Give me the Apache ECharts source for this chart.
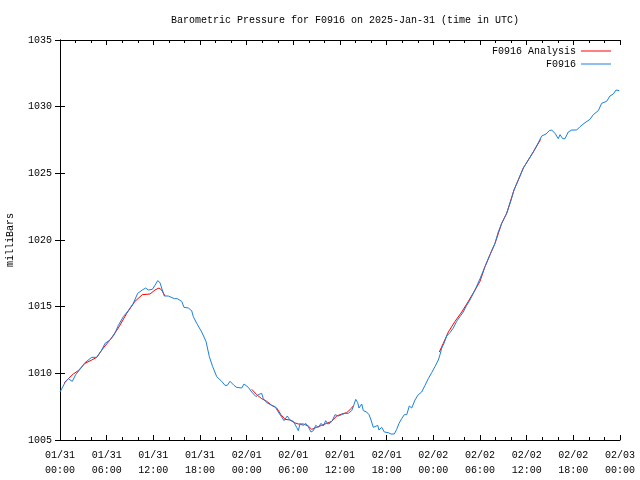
<!DOCTYPE html>
<html>
<head>
<meta charset="utf-8">
<script src="https://cdn.jsdelivr.net/npm/echarts@6/dist/echarts.min.js"></script>
<style>html,body{margin:0;padding:0;background:#fff}#c{width:640px;height:480px}</style>
</head>
<body>
<div id="c"></div>
<script>
// Hours since 2025-01-31 00:00 UTC
var tickLabels = ["01/31\n00:00","01/31\n06:00","01/31\n12:00","01/31\n18:00","02/01\n00:00","02/01\n06:00","02/01\n12:00","02/01\n18:00","02/02\n00:00","02/02\n06:00","02/02\n12:00","02/02\n18:00","02/03\n00:00"];

var obsHours = [0.00,0.64,1.07,1.58,2.02,2.70,3.21,4.08,4.72,5.36,5.79,6.43,6.98,7.50,8.14,8.78,9.42,9.99,10.58,11.02,11.35,11.87,12.21,12.56,12.86,13.15,13.41,13.92,14.14,14.70,15.08,15.65,15.94,16.50,16.93,17.14,17.58,18.22,18.77,19.20,19.63,20.15,20.79,21.21,21.51,21.86,22.37,22.72,23.36,23.66,24.21,24.65,25.20,25.50,25.93,26.14,26.58,27.22,27.64,28.07,28.41,28.80,29.22,29.57,30.00,30.43,30.64,30.86,31.28,31.59,31.92,32.27,32.57,32.88,33.21,33.56,33.85,34.16,34.42,34.71,35.01,35.36,35.78,36.22,36.64,37.07,37.50,37.71,38.02,38.28,38.44,38.79,39.00,39.43,39.73,39.99,40.28,40.50,40.85,41.01,41.36,41.70,42.21,42.56,42.98,43.29,43.59,43.93,44.27,44.58,44.91,45.22,45.64,46.07,46.50,46.93,47.35,47.79,48.21,48.64,48.86,49.08,49.37,49.72,50.14,50.57,51.00,51.43,51.85,52.29,52.71,53.36,54.00,54.64,55.29,55.93,56.35,56.79,57.43,57.95,58.37,58.93,59.57,60.21,60.85,61.50,61.93,62.49,62.91,63.22,63.64,64.07,64.29,64.63,64.93,65.35,65.79,66.43,66.86,67.50,68.14,68.57,69.21,69.64,70.28,70.71,71.14,71.49,71.65,71.91];
var obsValues = [1008.6,1009.3,1009.6,1009.4,1009.9,1010.4,1010.8,1011.2,1011.2,1011.75,1012.25,1012.5,1012.9,1013.6,1014.25,1014.7,1015.25,1016.0,1016.25,1016.4,1016.25,1016.3,1016.6,1016.95,1016.8,1016.25,1015.8,1015.8,1015.9,1015.6,1015.6,1015.4,1014.95,1014.9,1014.7,1014.25,1013.75,1013.1,1012.4,1011.25,1010.5,1009.75,1009.4,1009.1,1009.1,1009.4,1009.1,1008.95,1008.9,1009.2,1008.95,1008.6,1008.25,1008.4,1008.5,1008.1,1007.8,1007.6,1007.5,1007.1,1006.8,1006.45,1006.8,1006.5,1006.4,1005.95,1005.7,1006.2,1006.1,1006.25,1006.0,1005.6,1005.7,1006.1,1005.95,1006.25,1006.05,1006.45,1006.2,1006.25,1006.45,1006.9,1006.8,1006.9,1007.0,1007.0,1007.2,1007.5,1008.05,1007.8,1007.4,1007.7,1007.2,1007.1,1006.9,1006.5,1005.95,1006.05,1006.1,1005.75,1005.95,1005.6,1005.55,1005.45,1005.45,1005.8,1006.25,1006.6,1006.9,1006.9,1007.55,1007.4,1008.0,1008.4,1008.6,1009.1,1009.6,1010.05,1010.5,1011.0,1011.4,1011.9,1012.25,1012.8,1013.05,1013.4,1013.9,1014.25,1014.6,1015.1,1015.5,1016.25,1017.1,1018.0,1018.9,1019.75,1020.6,1021.25,1022.0,1022.9,1023.75,1024.5,1025.4,1026.0,1026.6,1027.3,1027.8,1027.95,1028.2,1028.25,1028.0,1027.6,1027.9,1027.6,1027.6,1028.1,1028.25,1028.25,1028.5,1028.8,1029.05,1029.4,1029.7,1030.25,1030.4,1030.8,1030.95,1031.25,1031.4,1031.2];

// Analysis series (null = gap)
var anaHours = [0.55,1.07,1.71,2.35,3.21,4.08,4.72,5.57,6.43,7.50,8.58,9.64,10.58,11.57,12.21,12.73,13.07,13.50,13.8,24.4,24.65,25.29,25.93,26.58,27.22,27.86,28.41,28.93,29.57,30.12,30.64,31.28,31.92,32.36,33.00,33.65,34.29,34.93,35.57,36.22,36.86,37.50,37.71,38.0,48.5,48.77,49.28,49.93,50.79,51.65,52.50,53.36,54.00,54.64,55.29,55.93,56.79,57.43,58.37,59.57,60.85,61.80];
var anaValues = [1009.3,1009.6,1009.95,1010.2,1010.75,1011.0,1011.2,1011.9,1012.5,1013.4,1014.5,1015.4,1015.9,1015.95,1016.25,1016.4,1016.25,1015.8,null,null,1008.8,1008.4,1008.1,1007.9,1007.6,1007.4,1006.9,1006.55,1006.5,1006.3,1006.2,1006.2,1006.05,1005.8,1005.95,1006.1,1006.25,1006.4,1006.8,1006.95,1007.05,1007.4,1007.55,null,null,1011.6,1012.25,1013.1,1013.9,1014.6,1015.4,1016.25,1016.9,1018.0,1018.9,1019.75,1021.25,1022.0,1023.75,1025.4,1026.6,1027.55];

var FONT = 'Liberation Mono';
function pairs(h, v){ var o=[]; for(var i=0;i<h.length;i++) o.push([h[i], v[i]]); return o; }

var chart = echarts.init(document.getElementById('c'), null, {renderer:'canvas'});
var axisBase = {
  axisLine:{show:true, lineStyle:{color:'#000', width:1}},
  splitLine:{show:false}
};
chart.setOption({
  animation:false,
  backgroundColor:'#fff',
  title:{text:'Barometric Pressure for F0916 on 2025-Jan-31 (time in UTC)', left:340, top:10, textAlign:'center',
    textStyle:{fontFamily:FONT, fontSize:10, fontWeight:'normal', color:'#000'}},
  legend:{
    right:24, top:41, orient:'vertical', align:'right', itemGap:3, itemWidth:30, itemHeight:1,
    icon:'rect',
    textStyle:{fontFamily:FONT, fontSize:10, color:'#000', padding:[0,0,0,0]},
    data:[{name:'F0916 Analysis'},{name:'F0916'}]
  },
  grid:{left:60, right:20, top:40, bottom:40, containLabel:false, outerBoundsMode:'none'},
  xAxis:[
    Object.assign({}, axisBase, {type:'value', min:0, max:72, interval:6, position:'bottom',
      axisTick:{show:true, inside:true, length:5, lineStyle:{color:'#000'}},
      minorTick:{show:true, splitNumber:3, length:3, lineStyle:{color:'#000'}},
      axisLabel:{margin:8, lineHeight:15, fontFamily:FONT, fontSize:10, color:'#000',
        formatter:function(v){ return tickLabels[Math.round(v/6)]; }}
    }),
    Object.assign({}, axisBase, {type:'value', min:0, max:72, interval:6, position:'top',
      axisTick:{show:true, inside:true, length:5, lineStyle:{color:'#000'}},
      minorTick:{show:true, splitNumber:3, length:3, lineStyle:{color:'#000'}},
      axisLabel:{show:false}
    })
  ],
  yAxis:[
    Object.assign({}, axisBase, {type:'value', min:1005, max:1035, interval:5, position:'left',
      name:'milliBars', nameLocation:'middle', nameGap:45, nameRotate:90,
      nameTextStyle:{fontFamily:FONT, fontSize:10, color:'#000'},
      axisTick:{show:true, inside:true, length:5, lineStyle:{color:'#000'}},
      axisLabel:{margin:8, fontFamily:FONT, fontSize:10, color:'#000',
        formatter:function(v){ return String(v); }}
    }),
    Object.assign({}, axisBase, {type:'value', min:1005, max:1035, interval:5, position:'right',
      axisTick:{show:true, inside:true, length:5, lineStyle:{color:'#000'}},
      axisLabel:{show:false}
    })
  ],
  series:[
    {name:'F0916 Analysis', type:'line', data:pairs(anaHours, anaValues), showSymbol:false, symbol:'none',
      connectNulls:false, lineStyle:{color:'#ff0000', width:1}, itemStyle:{color:'#ff0000'}},
    {name:'F0916', type:'line', data:pairs(obsHours, obsValues), showSymbol:false, symbol:'none',
      lineStyle:{color:'#1a7fe0', width:1}, itemStyle:{color:'#1a7fe0'}}
  ]
});
</script>
</body>
</html>
